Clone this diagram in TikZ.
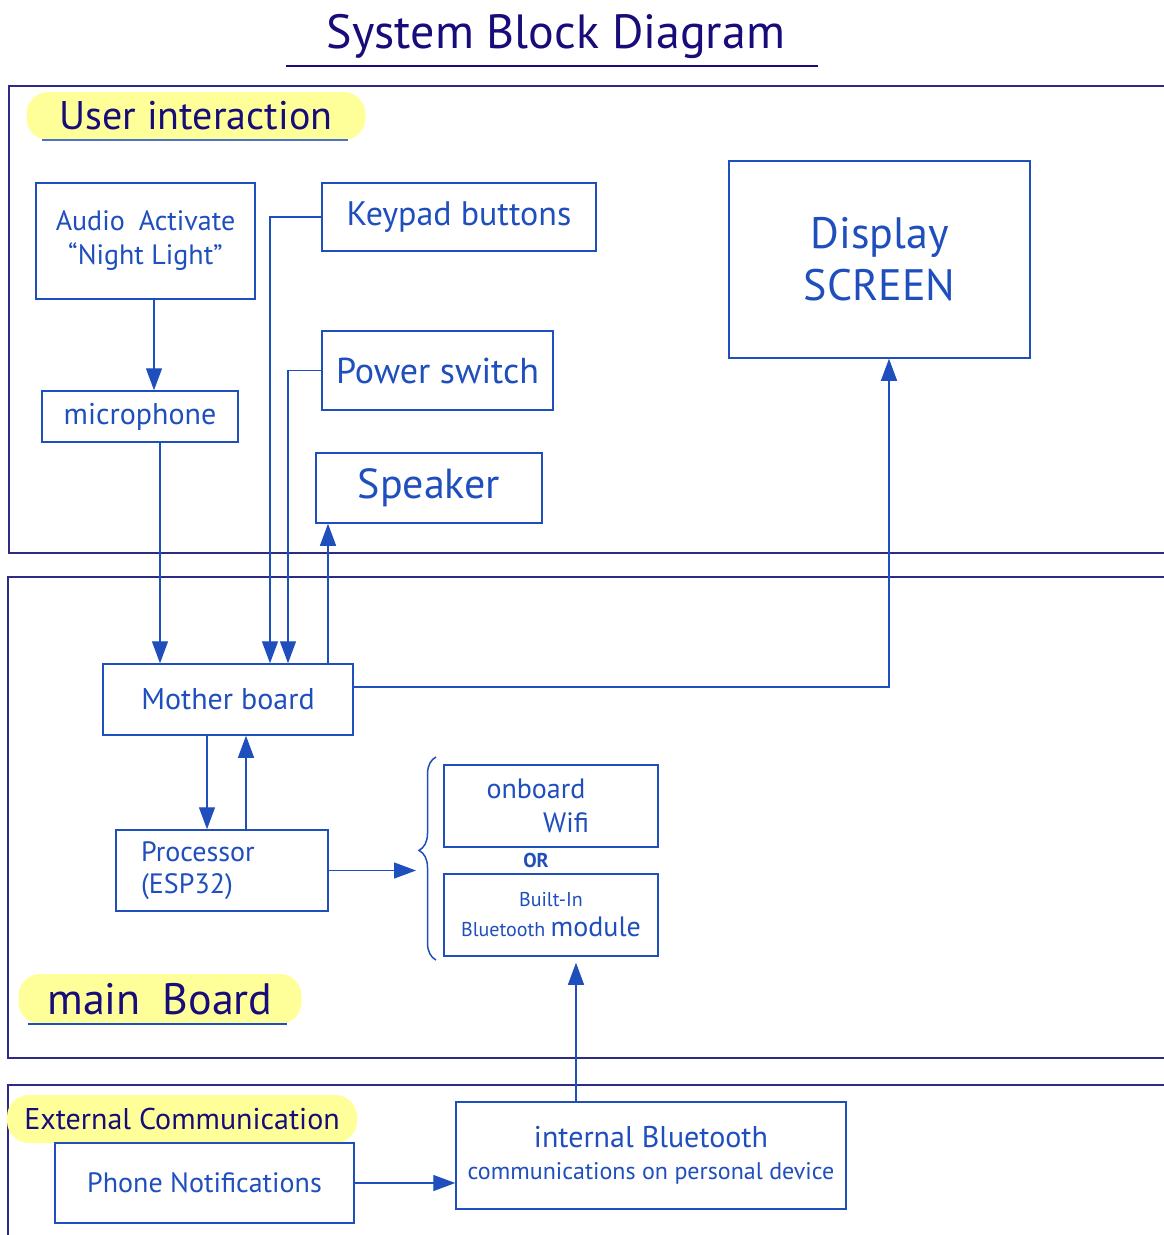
\documentclass[tikz,border=0pt]{standalone}
\usepackage{fontspec}
\setmainfont{PT Sans}
\usetikzlibrary{arrows.meta,decorations.pathreplacing,positioning}
\definecolor{sbblue}{HTML}{1F4EBD}
\definecolor{sbnavy}{HTML}{170C7A}
\definecolor{sbframe}{HTML}{2E2A86}
\definecolor{sbyellow}{HTML}{FFFF99}

\begin{document}
\begin{tikzpicture}[x=1pt,y=-1pt,
    blockbox/.style={draw=sbblue,line width=1.5pt,text=sbblue,align=center,inner sep=0pt},
    sectionbox/.style={draw=sbframe,line width=1.5pt},
    tagmark/.style={fill=sbyellow,rounded corners=22pt,text=sbnavy,inner sep=0pt},
    flow/.style={-{Triangle[length=22pt,width=16pt]},line width=1.3pt,draw=sbblue}
  ]
    \clip (0,0) rectangle (1164,1235);
    \fill[white] (0,0) rectangle (1164,1235);
    % title
    \node[text=sbnavy,font=\fontsize{48}{52}\selectfont] (title) at (556,36) {System Block Diagram};
    \draw[sbnavy,line width=2.5pt] (286,66) -- (818,66);
    % sections
    \draw[sectionbox] (9,86) rectangle (1190,553);
    \draw[sectionbox] (8,577) rectangle (1190,1058);
    \draw[sectionbox] (8,1085) rectangle (1190,1260);
    \node[tagmark,minimum width=339pt,minimum height=48pt,font=\fontsize{40}{44}\selectfont] (usertag) at (196,116) {User interaction};
    \draw[sbblue!80,line width=2pt] ([xshift=16pt]usertag.south west) -- ([xshift=-18pt]usertag.south east);
    \node[tagmark,minimum width=283pt,minimum height=50pt,font=\fontsize{44}{48}\selectfont] (boardtag) at (160,999) {main\enspace Board};
    \draw[sbblue,line width=2pt] ([xshift=10pt]boardtag.south west) -- ([xshift=-15pt]boardtag.south east);
    \node[tagmark,minimum width=350pt,minimum height=48pt,font=\fontsize{30}{34}\selectfont] (exttag) at (182,1119) {External Communication};
    % user interaction blocks
    \node[blockbox,minimum width=219pt,minimum height=116pt,font=\fontsize{28}{34}\selectfont] (audio) at (145.5,241) {Audio\enspace Activate\\“Night Light”};
    \node[blockbox,minimum width=196pt,minimum height=51pt,font=\fontsize{30}{34}\selectfont] (mic) at (140,416.5) {microphone};
    \node[blockbox,minimum width=274pt,minimum height=68pt,font=\fontsize{34}{38}\selectfont] (keypad) at (459,217) {Keypad buttons};
    \node[blockbox,minimum width=231pt,minimum height=79pt,font=\fontsize{36}{40}\selectfont] (power) at (437.5,370.5) {Power switch};
    \node[blockbox,minimum width=226pt,minimum height=70pt,font=\fontsize{42}{46}\selectfont] (speaker) at (429,488) {Speaker};
    \node[blockbox,minimum width=301pt,minimum height=197pt,font=\fontsize{44}{52}\selectfont] (display) at (879.5,259.5) {Display\\SCREEN};
    % main board blocks
    \node[blockbox,minimum width=250pt,minimum height=71pt,font=\fontsize{30}{34}\selectfont] (mother) at (228,699.5) {Mother board};
    \node[blockbox,minimum width=212pt,minimum height=81pt,align=left,font=\fontsize{28}{32}\selectfont] (proc) at (222,870.5) {Processor\\(ESP32)\hspace*{70pt}};
    \node[blockbox,minimum width=214pt,minimum height=82pt,font=\fontsize{28}{34}\selectfont] (wifi) at (551,806) {onboard\hspace*{30pt}\\\hspace*{30pt}Wifi};
    \node[text=sbblue,font=\bfseries\fontsize{20}{24}\selectfont] (ortext) at (536,860) {OR};
    \node[blockbox,minimum width=214pt,minimum height=82pt,font=\fontsize{20}{30}\selectfont] (bt) at (551,915) {Built-In\\Bluetooth {\fontsize{28}{30}\selectfont module}};
    \draw[sbblue,line width=1.5pt,decorate,decoration={brace,amplitude=17pt,aspect=0.54}] (436,960) -- (436,757);
    \coordinate (bracetip) at (416,867);
    % external blocks
    \node[blockbox,minimum width=299pt,minimum height=80pt,font=\fontsize{28}{32}\selectfont] (phone) at (204.5,1183) {Phone Notifications};
    \node[blockbox,minimum width=390pt,minimum height=107pt,font=\fontsize{24}{32}\selectfont] (internal) at (651,1155.5) {{\fontsize{30}{34}\selectfont internal Bluetooth}\\communications on personal device};
    % connectors
    \draw[flow] ([xshift=8.5pt]audio.south) -- ([xshift=14pt]mic.north);
    \draw[flow] ([xshift=20pt]mic.south) -- ([xshift=-68pt]mother.north);
    \draw[flow] (keypad.west) -| ([xshift=42pt]mother.north);
    \draw[flow] (power.west) -| ([xshift=60pt]mother.north);
    \draw[flow] ([xshift=100pt]mother.north) -- ([xshift=-101pt]speaker.south);
    \draw[flow] ([yshift=12.5pt]mother.east) -| ([xshift=9.5pt]display.south);
    \draw[flow] ([xshift=-21pt]mother.south) -- ([xshift=-15pt]proc.north);
    \draw[flow] ([xshift=24pt]proc.north) -- ([xshift=18pt]mother.south);
    \draw[flow] (proc.east) -- (proc.east -| bracetip);
    \draw[flow] ([xshift=-75pt]internal.north) -- ([xshift=25pt,yshift=-6pt]bt.south);
    \draw[flow] (phone.east) -- (phone.east -| internal.west);
  \end{tikzpicture}
\end{document}
